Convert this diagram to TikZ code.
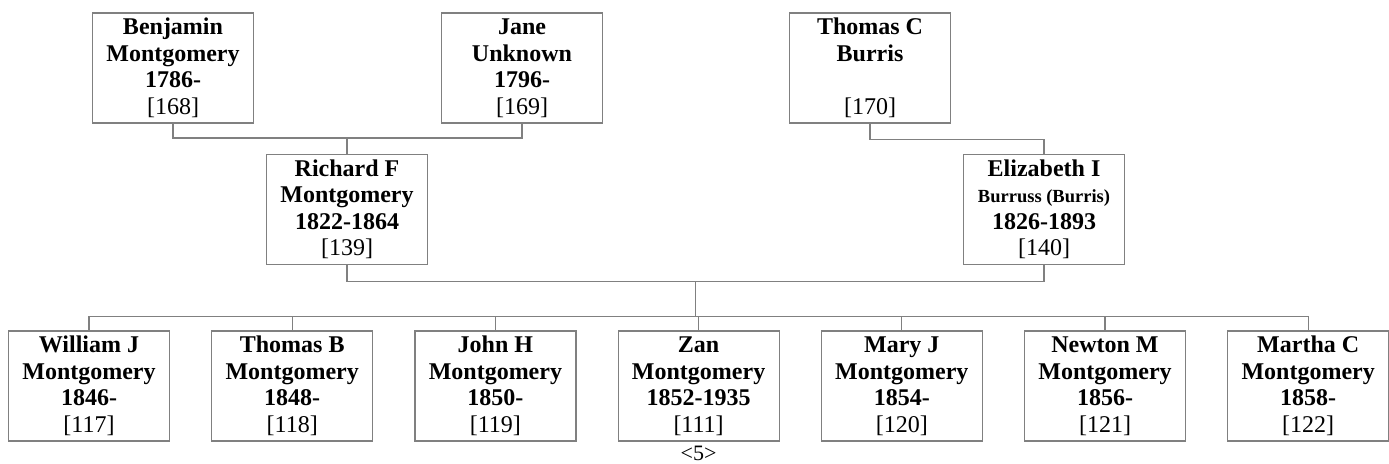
\documentclass[tikz,border=0pt]{standalone}
\usepackage{fontspec}
\setmainfont{Liberation Serif}
\usepackage{tikz}
\usetikzlibrary{positioning,calc}

\begin{document}
\begin{tikzpicture}[x=1pt, y=-1pt, node distance=40pt,
    every node/.style={font=\fontsize{24}{26.5}\selectfont\bfseries},
    person/.style={draw=black!50, line width=1.2pt, rectangle, minimum width=161pt, minimum height=110pt, inner sep=0pt, align=center},
    link/.style={draw=black!50, line width=1.2pt}]
    \useasboundingbox (0,0) rectangle (1389,463);

    % Grandparents
    \node[person] (benjamin) at (173,68) {Benjamin\\Montgomery\\1786-\\{\mdseries [168]}};
    \node[person] (jane) at (522,68) {Jane\\Unknown\\1796-\\{\mdseries [169]}};
    \node[person] (thomasC) at (870,68) {Thomas C\\Burris\\\strut\\{\mdseries [170]}};

    % Parents
    \node[person] (richard) at (347,209.5) {Richard F\\Montgomery\\1822-1864\\{\mdseries [139]}};
    \node[person] (elizabeth) at (1044,209.5) {Elizabeth I\\{\fontsize{18.5}{26.5}\selectfont Burruss (Burris)}\\1826-1893\\{\mdseries [140]}};

    % Children
    \node[person] (william) at (89,386) {William J\\Montgomery\\1846-\\{\mdseries [117]}};
    \node[person, right=41pt of william] (thomasB) {Thomas B\\Montgomery\\1848-\\{\mdseries [118]}};
    \node[person, right=41pt of thomasB] (john) {John H\\Montgomery\\1850-\\{\mdseries [119]}};
    \node[person, right=41pt of john] (zan) {Zan\\Montgomery\\1852-1935\\{\mdseries [111]}};
    \node[person, right=41pt of zan] (mary) {Mary J\\Montgomery\\1854-\\{\mdseries [120]}};
    \node[person, right=41pt of mary] (newton) {Newton M\\Montgomery\\1856-\\{\mdseries [121]}};
    \node[person, right=41pt of newton] (martha) {Martha C\\Montgomery\\1858-\\{\mdseries [122]}};

    % Page mark
    \node[font=\fontsize{22}{22}\selectfont\mdseries, below=1pt of zan] (page) {<5>};

    % Edges
    \draw[link] (richard.north) -- ++(0,-16) coordinate (rbar);
    \draw[link] (benjamin.south) |- (rbar) -| (jane.south);
    \draw[link] (thomasC.south) -- ++(0,16) -| (elizabeth.north);
    \coordinate (fam) at ($(richard.south)!0.5!(elizabeth.south) + (0,16)$);
    \coordinate (sib) at ($(fam) + (0,35)$);
    \draw[link] (richard.south) |- (fam) -| (elizabeth.south);
    \draw[link] (fam) -- (sib);
    \foreach \kid in {william, thomasB, john, zan, mary, newton, martha}
        \draw[link] (sib) -| (\kid.north);
\end{tikzpicture}
\end{document}
